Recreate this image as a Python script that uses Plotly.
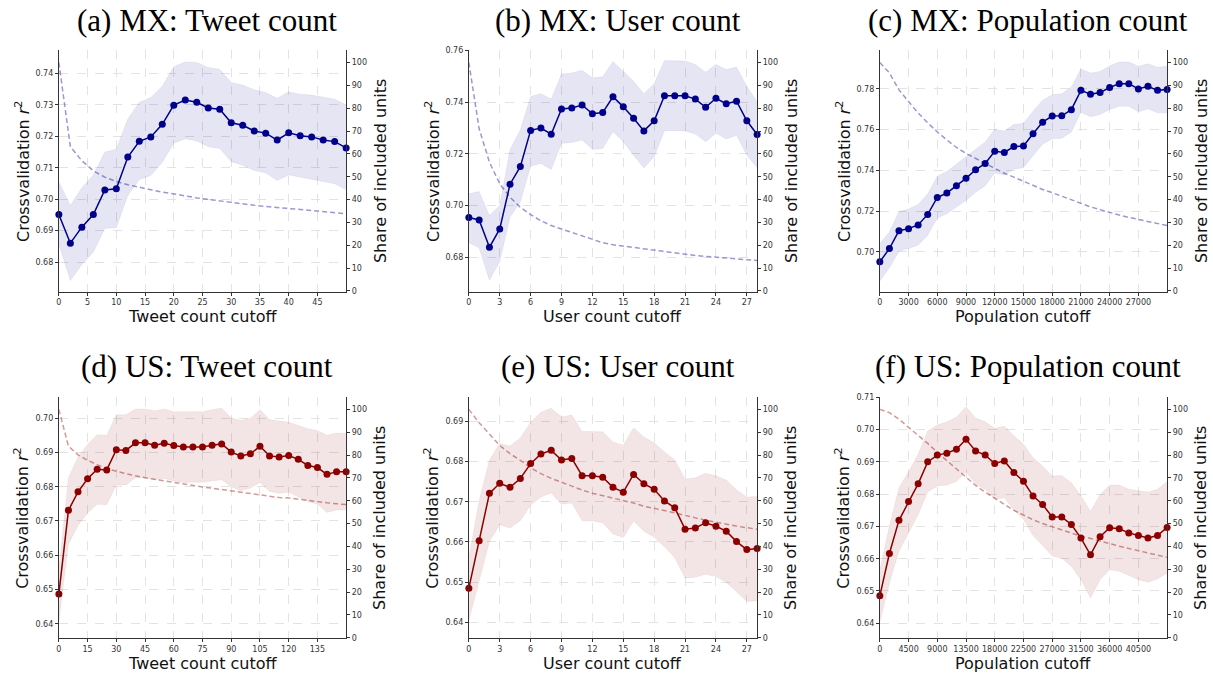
import plotly.graph_objects as go

W, H = 1213, 679

# ---------------- data ----------------
mx_tweet_x = [0, 2, 4, 6, 8, 10, 12, 14, 16, 18, 20, 22, 24, 26, 28, 30, 32, 34, 36, 38, 40, 42, 44, 46, 48, 50]
mx_tweet_mean = [0.6951, 0.6860, 0.6911, 0.6951, 0.7029, 0.7033, 0.7134, 0.7184, 0.7198, 0.7238, 0.7299, 0.7315, 0.7308,
                 0.7290, 0.7286, 0.7243, 0.7235, 0.7217, 0.7210, 0.7188, 0.7211, 0.7202, 0.7198, 0.7188, 0.7183, 0.7163]
mx_tweet_hi = [0.7055, 0.6980, 0.7036, 0.7077, 0.7150, 0.7159, 0.7255, 0.7308, 0.7323, 0.7360, 0.7421, 0.7437, 0.7435,
               0.7419, 0.7413, 0.7371, 0.7363, 0.7348, 0.7339, 0.7321, 0.7342, 0.7334, 0.7331, 0.7324, 0.7318, 0.7300]
mx_tweet_lo = [0.6857, 0.6741, 0.6792, 0.6831, 0.6907, 0.6909, 0.7012, 0.7062, 0.7075, 0.7117, 0.7178, 0.7192, 0.7185,
               0.7167, 0.7161, 0.7119, 0.7108, 0.7091, 0.7083, 0.7059, 0.7077, 0.7070, 0.7064, 0.7056, 0.7049, 0.7030]
mx_tweet_share = [100, 63.2, 57, 52.6, 49.8, 47.9, 46.5, 45.3, 44.3, 43.3, 42.3, 41.6, 40.7, 40, 39.4, 38.7, 38.1, 37.5,
                  37, 36.5, 36.1, 35.5, 35.1, 34.7, 34.2, 33.8]

mx_user_x = [0, 1, 2, 3, 4, 5, 6, 7, 8, 9, 10, 11, 12, 13, 14, 15, 16, 17, 18, 19, 20, 21, 22, 23, 24, 25, 26, 27, 28]
mx_user_mean = [0.6954, 0.6945, 0.6839, 0.6910, 0.7083, 0.7151, 0.7291, 0.7300, 0.7276, 0.7374, 0.7378, 0.7389, 0.7355,
                0.7360, 0.7421, 0.7382, 0.7338, 0.7289, 0.7328, 0.7425, 0.7425, 0.7425, 0.7412, 0.7380, 0.7415, 0.7394,
                0.7404, 0.7328, 0.7275]
mx_user_hi = [0.7046, 0.7055, 0.6962, 0.7001, 0.7217, 0.7293, 0.7422, 0.7433, 0.7412, 0.7509, 0.7513, 0.7523, 0.7494,
              0.7498, 0.7557, 0.7520, 0.7481, 0.7433, 0.7472, 0.7561, 0.7561, 0.7559, 0.7546, 0.7516, 0.7546, 0.7526,
              0.7536, 0.7461, 0.7403]
mx_user_lo = [0.6858, 0.6836, 0.6712, 0.6784, 0.6956, 0.7014, 0.7153, 0.7163, 0.7140, 0.7241, 0.7244, 0.7254, 0.7217,
              0.7221, 0.7286, 0.7247, 0.7195, 0.7146, 0.7189, 0.7290, 0.7290, 0.7289, 0.7277, 0.7247, 0.7280, 0.7258,
              0.7271, 0.7195, 0.7147]
mx_user_share = [100, 71, 56.4, 46.9, 41, 36.6, 33.4, 30.7, 28.6, 27.1, 25.6, 24.2, 22.4, 21.1, 20.2, 19.6, 19, 18.3,
                 17.7, 17.1, 16.5, 16.1, 15.5, 15.1, 14.8, 14.3, 14.1, 13.8, 13.3]

mx_pop_x = [0, 1000, 2000, 3000, 4000, 5000, 6000, 7000, 8000, 9000, 10000, 11000, 12000, 13000, 14000, 15000, 16000,
            17000, 18000, 19000, 20000, 21000, 22000, 23000, 24000, 25000, 26000, 27000, 28000, 29000, 30000]
mx_pop_mean = [0.6951, 0.7016, 0.7104, 0.7114, 0.7132, 0.7184, 0.7267, 0.7289, 0.7325, 0.7361, 0.7403, 0.7434, 0.7494,
               0.7488, 0.7517, 0.7520, 0.7580, 0.7637, 0.7667, 0.7668, 0.7698, 0.7793, 0.7774, 0.7782, 0.7807, 0.7826,
               0.7826, 0.7800, 0.7813, 0.7793, 0.7797]
mx_pop_hi = [0.7041, 0.7098, 0.7198, 0.7211, 0.7233, 0.7285, 0.7371, 0.7395, 0.7431, 0.7468, 0.7507, 0.7540, 0.7602,
             0.7593, 0.7626, 0.7631, 0.7691, 0.7745, 0.7772, 0.7776, 0.7810, 0.7898, 0.7878, 0.7886, 0.7914, 0.7932,
             0.7932, 0.7911, 0.7924, 0.7907, 0.7911]
mx_pop_lo = [0.6857, 0.6922, 0.7003, 0.7016, 0.7033, 0.7081, 0.7166, 0.7187, 0.7220, 0.7252, 0.7293, 0.7325, 0.7387,
             0.7377, 0.7407, 0.7413, 0.7472, 0.7528, 0.7556, 0.7558, 0.7589, 0.7686, 0.7663, 0.7675, 0.7699, 0.7715,
             0.7715, 0.7688, 0.7702, 0.7683, 0.7683]
mx_pop_share = [100, 95.5, 88, 83, 77.9, 73.6, 69.6, 66.1, 62.8, 60.2, 58, 55.6, 53.4, 51.5, 49.8, 47.9, 46.2, 44.4, 43,
                41.4, 39.7, 38.2, 36.8, 35.6, 34.3, 33.2, 32.2, 31.3, 30.6, 29.6, 28.6]

us_tweet_x = [0, 5, 10, 15, 20, 25, 30, 35, 40, 45, 50, 55, 60, 65, 70, 75, 80, 85, 90, 95, 100, 105, 110, 115, 120,
              125, 130, 135, 140, 145, 150]
us_tweet_mean = [0.6487, 0.6731, 0.6785, 0.6823, 0.6851, 0.6849, 0.6908, 0.6906, 0.6928, 0.6928, 0.6921, 0.6927, 0.6920,
                 0.6916, 0.6916, 0.6916, 0.6921, 0.6925, 0.6901, 0.6890, 0.6896, 0.6918, 0.6890, 0.6887, 0.6891, 0.6880,
                 0.6862, 0.6856, 0.6836, 0.6844, 0.6844]
us_tweet_hi = [0.6559, 0.6826, 0.6887, 0.6923, 0.6952, 0.6950, 0.7010, 0.7010, 0.7027, 0.7027, 0.7022, 0.7027, 0.7019,
               0.7019, 0.7019, 0.7019, 0.7025, 0.7030, 0.7001, 0.6993, 0.7000, 0.7025, 0.6996, 0.6991, 0.6988, 0.6979,
               0.6969, 0.6964, 0.6950, 0.6957, 0.6955]
us_tweet_lo = [0.6405, 0.6633, 0.6687, 0.6723, 0.6749, 0.6747, 0.6805, 0.6805, 0.6826, 0.6826, 0.6820, 0.6824, 0.6817,
               0.6812, 0.6813, 0.6813, 0.6817, 0.6820, 0.6800, 0.6788, 0.6796, 0.6812, 0.6786, 0.6781, 0.6784, 0.6771,
               0.6757, 0.6749, 0.6725, 0.6732, 0.6732]
us_tweet_share = [100, 83.9, 80.1, 77.7, 75.8, 74.1, 72.9, 71.8, 70.9, 70.1, 69.4, 68.6, 67.9, 67.2, 66.6, 66.0, 65.5,
                  64.9, 64.3, 63.7, 63.2, 62.6, 61.9, 61.4, 61.2, 60.6, 60, 59.6, 59.1, 58.7, 58.3]

us_user_x = [0, 1, 2, 3, 4, 5, 6, 7, 8, 9, 10, 11, 12, 13, 14, 15, 16, 17, 18, 19, 20, 21, 22, 23, 24, 25, 26, 27, 28]
us_user_mean = [0.6485, 0.6603, 0.6721, 0.6746, 0.6736, 0.6758, 0.6795, 0.6819, 0.6828, 0.6804, 0.6808, 0.6765, 0.6765,
                0.6761, 0.6736, 0.6724, 0.6768, 0.6745, 0.6731, 0.6702, 0.6685, 0.6632, 0.6635, 0.6648, 0.6639, 0.6627,
                0.6601, 0.6581, 0.6584]
us_user_hi = [0.6561, 0.6703, 0.6804, 0.6845, 0.6839, 0.6859, 0.6898, 0.6923, 0.6933, 0.6911, 0.6916, 0.6875, 0.6875,
              0.6874, 0.6849, 0.6841, 0.6884, 0.6861, 0.6847, 0.6824, 0.6804, 0.6757, 0.6760, 0.6771, 0.6765, 0.6754,
              0.6730, 0.6712, 0.6713]
us_user_lo = [0.6405, 0.6504, 0.6601, 0.6643, 0.6635, 0.6653, 0.6692, 0.6712, 0.6722, 0.6694, 0.6697, 0.6653, 0.6652,
              0.6648, 0.6620, 0.6611, 0.6652, 0.6627, 0.6612, 0.6588, 0.6561, 0.6510, 0.6512, 0.6520, 0.6514, 0.6500,
              0.6475, 0.6452, 0.6454]
us_user_share = [100, 94.2, 89.2, 84.2, 80.6, 77.7, 74.4, 71.9, 69.8, 68, 66.2, 64.7, 63.3, 62.3, 61.2, 60, 59, 57.6,
                 56.5, 55.7, 54.7, 53.5, 52.5, 51.5, 50.6, 49.6, 48.9, 48.2, 47.5]

us_pop_x = [0, 1500, 3000, 4500, 6000, 7500, 9000, 10500, 12000, 13500, 15000, 16500, 18000, 19500, 21000, 22500, 24000,
            25500, 27000, 28500, 30000, 31500, 33000, 34500, 36000, 37500, 39000, 40500, 42000, 43500, 45000]
us_pop_mean = [0.6485, 0.6616, 0.6719, 0.6777, 0.6832, 0.6900, 0.6921, 0.6927, 0.6939, 0.6970, 0.6934, 0.6921, 0.6895,
               0.6903, 0.6867, 0.6840, 0.6794, 0.6768, 0.6729, 0.6729, 0.6706, 0.6664, 0.6612, 0.6668, 0.6696, 0.6693,
               0.6680, 0.6672, 0.6664, 0.6672, 0.6697]
us_pop_hi = [0.6566, 0.6701, 0.6820, 0.6869, 0.6924, 0.6996, 0.7014, 0.7024, 0.7038, 0.7071, 0.7036, 0.7024, 0.7004,
             0.7010, 0.6981, 0.6955, 0.6913, 0.6887, 0.6856, 0.6858, 0.6835, 0.6794, 0.6747, 0.6799, 0.6828, 0.6828,
             0.6815, 0.6812, 0.6807, 0.6815, 0.6839]
us_pop_lo = [0.6402, 0.6524, 0.6623, 0.6679, 0.6736, 0.6807, 0.6825, 0.6828, 0.6839, 0.6869, 0.6830, 0.6815, 0.6784,
             0.6789, 0.6751, 0.6722, 0.6672, 0.6641, 0.6608, 0.6602, 0.6576, 0.6535, 0.6478, 0.6535, 0.6566, 0.6561,
             0.6547, 0.6535, 0.6527, 0.6537, 0.6556]
us_pop_share = [100, 98.6, 95.7, 92.3, 88.7, 85.1, 81.2, 77.5, 73.9, 70.3, 66.7, 63.8, 60.9, 58.4, 55.8, 53.6, 51.7, 50,
                48.6, 47.1, 45.7, 44.5, 43.5, 42.3, 41.3, 40.1, 39.1, 38.1, 37.2, 36.2, 35.2]

titles = ["(a) MX: Tweet count", "(b) MX: User count", "(c) MX: Population count",
          "(d) US: Tweet count", "(e) US: User count", "(f) US: Population count"]
xlabels = ["Tweet count cutoff", "User count cutoff", "Population cutoff",
           "Tweet count cutoff", "User count cutoff", "Population cutoff"]
xtick_vals = [[0, 5, 10, 15, 20, 25, 30, 35, 40, 45],
              [0, 3, 6, 9, 12, 15, 18, 21, 24, 27],
              [0, 3000, 6000, 9000, 12000, 15000, 18000, 21000, 24000, 27000],
              [0, 15, 30, 45, 60, 75, 90, 105, 120, 135],
              [0, 3, 6, 9, 12, 15, 18, 21, 24, 27],
              [0, 4500, 9000, 13500, 18000, 22500, 27000, 31500, 36000, 40500]]
ytick_vals = [[0.68, 0.69, 0.70, 0.71, 0.72, 0.73, 0.74],
              [0.68, 0.70, 0.72, 0.74, 0.76],
              [0.70, 0.72, 0.74, 0.76, 0.78],
              [0.64, 0.65, 0.66, 0.67, 0.68, 0.69, 0.70],
              [0.64, 0.65, 0.66, 0.67, 0.68, 0.69],
              [0.64, 0.65, 0.66, 0.67, 0.68, 0.69, 0.70, 0.71]]
share_ticks = [0, 10, 20, 30, 40, 50, 60, 70, 80, 90, 100]

# ---------------- styling / layout ----------------
yranges = [[0.6706, 0.7473], [0.6668, 0.7600], [0.6805, 0.7989],
           [0.6357, 0.7061], [0.6360, 0.6960], [0.6353, 0.7100]]
share_range = [-0.3, 105.3]

lefts = [56, 467, 879]
rights = [344, 756, 1167]
tops = [47, 398]
bottoms = [291, 642]

MX = dict(line="#00008B", band="rgba(0,0,139,0.10)", share="rgba(0,0,139,0.40)")
US = dict(line="#8B0000", band="rgba(139,0,0,0.10)", share="rgba(139,0,0,0.40)")

panels = [
    (mx_tweet_x, mx_tweet_mean, mx_tweet_lo, mx_tweet_hi, mx_tweet_share, MX),
    (mx_user_x, mx_user_mean, mx_user_lo, mx_user_hi, mx_user_share, MX),
    (mx_pop_x, mx_pop_mean, mx_pop_lo, mx_pop_hi, mx_pop_share, MX),
    (us_tweet_x, us_tweet_mean, us_tweet_lo, us_tweet_hi, us_tweet_share, US),
    (us_user_x, us_user_mean, us_user_lo, us_user_hi, us_user_share, US),
    (us_pop_x, us_pop_mean, us_pop_lo, us_pop_hi, us_pop_share, US),
]

AX = "#333333"
TICKFONT = dict(family="DejaVu Sans", size=8, color="#333333")
LABFONT = dict(family="DejaVu Sans", size=16, color="#111111")
TITLEFONT = dict(family="Liberation Serif", size=31, color="#000000")

fig = go.Figure()
layout = dict(width=W, height=H, margin=dict(l=0, r=0, t=0, b=0),
              paper_bgcolor="white", plot_bgcolor="white", showlegend=False)
annotations = []

for i, (xs, mean, lo, hi, share, col) in enumerate(panels):
    r, c = divmod(i, 3)
    n = i + 1
    xa = "x" if n == 1 else f"x{n}"
    ya = "y" if n == 1 else f"y{n}"
    ya2 = f"y{n + 6}"
    xdom = [lefts[c] / W, rights[c] / W]
    ydom = [1 - bottoms[r] / H, 1 - tops[r] / H]

    fig.add_trace(go.Scatter(x=xs, y=lo, xaxis=xa, yaxis=ya, mode="lines",
                             line=dict(width=0.5, color=col["band"]), hoverinfo="skip"))
    fig.add_trace(go.Scatter(x=xs, y=hi, xaxis=xa, yaxis=ya, mode="lines", fill="tonexty",
                             fillcolor=col["band"], line=dict(width=0.5, color=col["band"]), hoverinfo="skip"))
    fig.add_trace(go.Scatter(x=xs, y=mean, xaxis=xa, yaxis=ya, mode="lines+markers",
                             line=dict(width=1.5, color=col["line"]),
                             marker=dict(size=7, color=col["line"]), cliponaxis=False))
    fig.add_trace(go.Scatter(x=xs, y=share, xaxis=xa, yaxis=ya2, mode="lines",
                             line=dict(width=1.5, color=col["share"], dash="5px,3px")))

    xkey = "xaxis" if n == 1 else f"xaxis{n}"
    ykey = "yaxis" if n == 1 else f"yaxis{n}"
    y2key = f"yaxis{n + 6}"
    layout[xkey] = dict(domain=xdom, anchor=ya, range=[xs[0], xs[-1]],
                        tickmode="array", tickvals=xtick_vals[i], ticktext=[str(v) for v in xtick_vals[i]],
                        tickangle=0,
                        showline=True, linecolor=AX, linewidth=1, ticks="outside", ticklen=3, tickcolor=AX,
                        showgrid=True, gridcolor="#e3e3e3", griddash="dash", gridwidth=1,
                        zeroline=False, tickfont=TICKFONT)
    layout[ykey] = dict(domain=ydom, anchor=xa, range=yranges[i],
                        tickmode="array", tickvals=ytick_vals[i], ticktext=[f"{v:.2f}" for v in ytick_vals[i]],
                        showline=True, linecolor=AX, linewidth=1, ticks="outside", ticklen=3, tickcolor=AX,
                        showgrid=True, gridcolor="#e3e3e3", griddash="dash", gridwidth=1,
                        zeroline=False, tickfont=TICKFONT)
    layout[y2key] = dict(overlaying=ya, anchor=xa, side="right", range=share_range,
                         tickmode="array", tickvals=share_ticks, ticktext=[str(v) for v in share_ticks],
                         showline=True, linecolor=AX, linewidth=1, ticks="outside", ticklen=3, tickcolor=AX,
                         showgrid=False, zeroline=False, tickfont=TICKFONT)

    cx = (lefts[c] + rights[c]) / 2
    cy = (tops[r] + bottoms[r]) / 2
    title_y = [17, 367][r]
    annotations.append(dict(text=titles[i], x=(cx + 5) / W, y=1 - title_y / H, xref="paper", yref="paper",
                            xanchor="center", yanchor="middle", showarrow=False, font=TITLEFONT))
    annotations.append(dict(text=xlabels[i], x=cx / W, y=1 - (bottoms[r] + 25) / H, xref="paper", yref="paper",
                            xanchor="center", yanchor="middle", showarrow=False, font=LABFONT))
    annotations.append(dict(text="Crossvalidation <i>r</i><sup>2</sup>", x=(lefts[c] - 37) / W, y=1 - cy / H,
                            xref="paper", yref="paper", xanchor="center", yanchor="middle", textangle=-90,
                            showarrow=False, font=LABFONT))
    annotations.append(dict(text="Share of included units", x=(rights[c] + 34) / W, y=1 - cy / H,
                            xref="paper", yref="paper", xanchor="center", yanchor="middle", textangle=-90,
                            showarrow=False, font=LABFONT))

layout["annotations"] = annotations
fig.update_layout(**layout)
fig.write_html("out.html")
